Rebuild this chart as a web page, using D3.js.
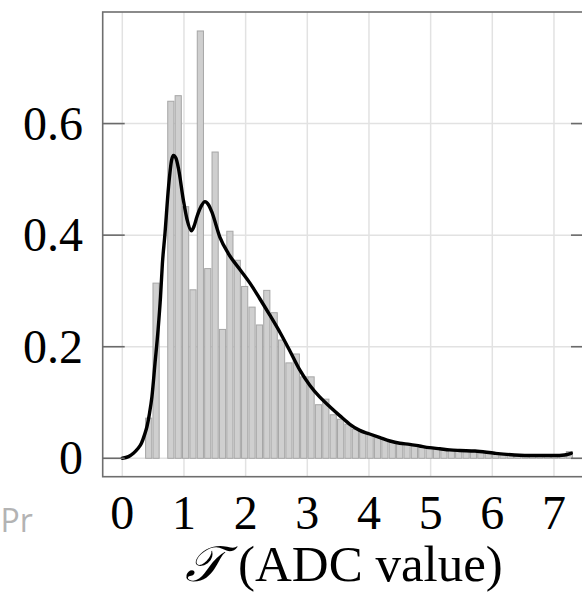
<!DOCTYPE html>
<html>
<head>
<meta charset="utf-8">
<script src="https://cdn.jsdelivr.net/npm/d3@7/dist/d3.min.js"></script>
<style>
  html, body { margin: 0; padding: 0; background: #fff; overflow: hidden; }
  svg { display: block; }
</style>
</head>
<body>
<svg id="chart" width="582" height="595"></svg>
<script>
// Histogram of ADC values (density) with a kernel density estimate on top.
const binStart = 0.368;   // left edge of the first bin
const binWidth = 0.1197;  // width of every bin
const density = [
  0.072, 0.314, 0.000, 0.640, 0.650, 0.451, 0.302, 0.766, 0.340, 0.549,
  0.231, 0.407, 0.355, 0.308, 0.271, 0.239, 0.301, 0.261, 0.212, 0.171,
  0.187, 0.146, 0.146, 0.096, 0.106, 0.078, 0.070, 0.061, 0.052, 0.046,
  0.042, 0.037, 0.033, 0.030, 0.027, 0.025, 0.023, 0.021, 0.019, 0.017,
  0.016, 0.015, 0.014, 0.013, 0.012, 0.011, 0.010, 0.009, 0.008, 0.006,
  0.005, 0.005, 0.004, 0.004, 0.004, 0.003, 0.004, 0.012
];

// Kernel density curve samples
const kdeX = [0.00, 0.10, 0.18, 0.25, 0.31, 0.36, 0.40, 0.44, 0.48, 0.53,
              0.58, 0.62, 0.65, 0.69, 0.75, 0.80, 0.83, 0.87, 0.91, 0.99,
              1.05, 1.12, 1.16, 1.21, 1.28, 1.34, 1.40, 1.45, 1.58, 1.72,
              1.91, 2.07, 2.23, 2.39, 2.56, 2.72, 2.88, 3.04, 3.20, 3.37,
              3.53, 3.69, 3.85, 4.00, 4.18, 4.34, 4.50, 4.66, 4.82, 4.98,
              5.15, 5.31, 5.47, 5.72, 6.04, 6.36, 6.69, 7.01, 7.17, 7.28];
const kdeY = [0.000, 0.003, 0.009, 0.017, 0.027, 0.042, 0.057, 0.080, 0.110, 0.170,
              0.230, 0.290, 0.349, 0.400, 0.487, 0.535, 0.543, 0.538, 0.520, 0.463,
              0.428, 0.408, 0.415, 0.433, 0.452, 0.460, 0.454, 0.442, 0.397, 0.367,
              0.338, 0.314, 0.286, 0.257, 0.225, 0.192, 0.158, 0.131, 0.110, 0.092,
              0.076, 0.061, 0.050, 0.044, 0.037, 0.031, 0.027, 0.025, 0.022, 0.019,
              0.017, 0.015, 0.014, 0.013, 0.009, 0.006, 0.005, 0.005, 0.006, 0.009];

const xTicks = [0, 1, 2, 3, 4, 5, 6, 7];
const yTicks = [0, 0.2, 0.4, 0.6];
const yTickLabels = ["0", "0.2", "0.4", "0.6"];

const svg = d3.select("#chart");
const plotL = 102.7, plotR = 593, plotT = 12, plotB = 476.7;

const x = d3.scaleLinear().domain([-0.318, 7.633]).range([plotL, plotR]);
const y = d3.scaleLinear().domain([-0.033, 0.8]).range([plotB, plotT]);

const serif = "'Liberation Serif', 'DejaVu Serif', serif";

// grid
const grid = svg.append("g");
grid.selectAll("line.gx").data(xTicks).join("line")
  .attr("x1", d => x(d)).attr("x2", d => x(d))
  .attr("y1", plotT).attr("y2", plotB)
  .attr("stroke", "#e2e2e2").attr("stroke-width", 1.5);
grid.selectAll("line.gy").data(yTicks).join("line").attr("class", "gy")
  .attr("x1", plotL).attr("x2", plotR)
  .attr("y1", d => y(d)).attr("y2", d => y(d))
  .attr("stroke", "#e2e2e2").attr("stroke-width", 1.5);

// histogram bars
const bins = density.map((v, i) => ({
  x0: binStart + i * binWidth,
  x1: binStart + (i + 1) * binWidth,
  v
}));
svg.append("g").selectAll("rect").data(bins.filter(b => b.v > 0)).join("rect")
  .attr("x", d => x(d.x0) + 0.6)
  .attr("width", d => x(d.x1) - x(d.x0) - 1.2)
  .attr("y", d => y(d.v))
  .attr("height", d => y(0) - y(d.v))
  .attr("fill", "#cfcfcf")
  .attr("stroke", "#a6a6a6")
  .attr("stroke-width", 1);

// density curve
const pts = kdeX.map((v, i) => [v, kdeY[i]]);
svg.append("path")
  .datum(pts)
  .attr("fill", "none")
  .attr("stroke", "#000")
  .attr("stroke-width", 3.4)
  .attr("stroke-linejoin", "round")
  .attr("stroke-linecap", "round")
  .attr("d", d3.line().x(d => x(d[0])).y(d => y(d[1])).curve(d3.curveMonotoneX));

// frame
svg.append("rect")
  .attr("x", plotL).attr("y", plotT)
  .attr("width", plotR - plotL).attr("height", plotB - plotT)
  .attr("fill", "none").attr("stroke", "#6e6e6e").attr("stroke-width", 1.6);

// inward y ticks on both sides
const tickLen = 22;
const yt = svg.append("g");
yt.selectAll("line.l").data(yTicks).join("line").attr("class", "l")
  .attr("x1", plotL).attr("x2", plotL + tickLen)
  .attr("y1", d => y(d)).attr("y2", d => y(d))
  .attr("stroke", "#6a6a6a").attr("stroke-width", 1.6);
yt.selectAll("line.r").data(yTicks).join("line").attr("class", "r")
  .attr("x1", plotR - tickLen).attr("x2", plotR)
  .attr("y1", d => y(d)).attr("y2", d => y(d))
  .attr("stroke", "#6a6a6a").attr("stroke-width", 1.6);

// y tick labels
svg.append("g").selectAll("text").data(yTicks).join("text")
  .attr("x", 83)
  .attr("y", d => y(d) + 16)
  .attr("text-anchor", "end")
  .attr("font-family", serif)
  .attr("font-size", 48)
  .attr("fill", "#000")
  .text((d, i) => yTickLabels[i]);

// x tick labels
svg.append("g").selectAll("text").data(xTicks).join("text")
  .attr("x", d => x(d))
  .attr("y", 529)
  .attr("text-anchor", "middle")
  .attr("font-family", serif)
  .attr("font-size", 48)
  .attr("fill", "#000")
  .text(d => String(d));

// axis title
svg.append("text")
  .attr("x", 204).attr("y", 581)
  .attr("text-anchor", "middle")
  .attr("font-family", serif)
  .attr("font-style", "italic")
  .attr("font-size", 50)
  .text("\u{1D4AF}");
svg.append("text")
  .attr("x", 238).attr("y", 581)
  .attr("font-family", serif)
  .attr("font-size", 51)
  .text("(ADC value)");

// caption fragment at the left margin
svg.append("text")
  .attr("x", 0.5).attr("y", 532)
  .attr("text-anchor", "start")
  .attr("font-family", "'Open Sans', 'Noto Sans', sans-serif")
  .attr("font-size", 32)
  .attr("fill", "#b3b3b3")
  .text("Pr");
</script>
</body>
</html>
